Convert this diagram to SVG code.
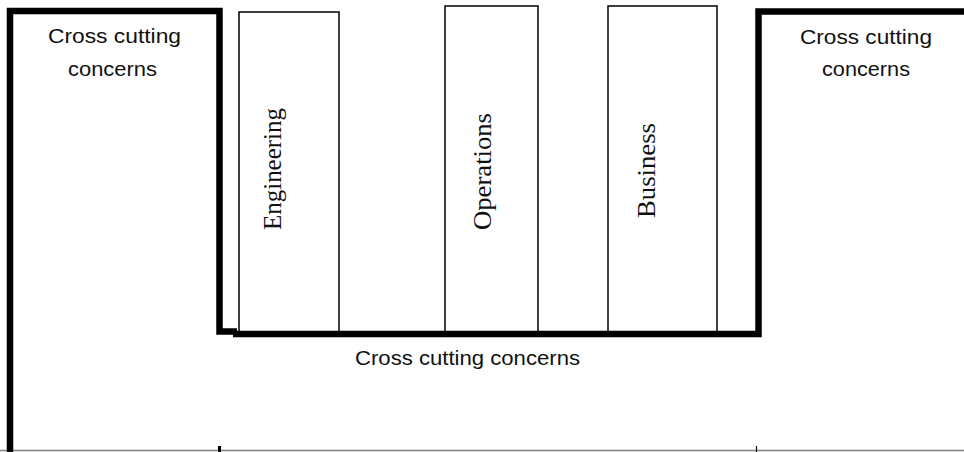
<svg xmlns="http://www.w3.org/2000/svg" width="964" height="452" viewBox="0 0 964 452">
  <style>
    .frame { fill: none; stroke: #000; stroke-width: 6.5; stroke-linejoin: miter; }
    .pillar { fill: #fff; stroke: #000; stroke-width: 1.5; }
    .cc { font-family: "Liberation Sans", Arial, sans-serif; font-size: 20px; fill: #111; text-anchor: middle; }
    .vt { font-family: "Liberation Serif", "Times New Roman", serif; font-size: 26px; fill: #111; text-anchor: middle; }
  </style>
  <rect width="964" height="452" fill="#fff"/>

  <!-- baseline and ticks -->
  <g id="baseline">
    <line x1="0" y1="450.5" x2="964" y2="450.5" stroke="#808080" stroke-width="1.5"/>
    <line x1="219.5" y1="446" x2="219.5" y2="452" stroke="#000" stroke-width="3"/>
    <line x1="756.5" y1="446" x2="756.5" y2="452" stroke="#000" stroke-width="1.2"/>
  </g>

  <!-- pillars -->
  <g id="engineering">
    <rect class="pillar" x="239" y="12" width="100" height="320"/>
    <text class="vt" font-size="25" transform="translate(281 169) rotate(-90)" textLength="122" lengthAdjust="spacingAndGlyphs">Engineering</text>
  </g>
  <g id="operations">
    <rect class="pillar" x="445" y="6" width="93" height="326"/>
    <text class="vt" transform="translate(491 171.5) rotate(-90)" textLength="117" lengthAdjust="spacingAndGlyphs">Operations</text>
  </g>
  <g id="business">
    <rect class="pillar" x="608" y="6" width="109" height="326"/>
    <text class="vt" transform="translate(655 170.5) rotate(-90)" textLength="95" lengthAdjust="spacingAndGlyphs">Business</text>
  </g>

  <!-- cross cutting concern frames -->
  <g id="connectors">
    <path class="frame" d="M10,452 V11 H219.5 V331.5 H237"/>
    <path class="frame" d="M233,334 H758.5 V11.5 H964"/>
  </g>

  <g id="cc-left">
    <text class="cc" x="114.5" y="43" textLength="133" lengthAdjust="spacingAndGlyphs">Cross cutting</text>
    <text class="cc" x="112.5" y="76" textLength="89" lengthAdjust="spacingAndGlyphs">concerns</text>
  </g>
  <g id="cc-right">
    <text class="cc" x="866" y="44" textLength="132" lengthAdjust="spacingAndGlyphs">Cross cutting</text>
    <text class="cc" x="866" y="76" textLength="88" lengthAdjust="spacingAndGlyphs">concerns</text>
  </g>
  <g id="cc-bottom">
    <text class="cc" x="467.5" y="365" textLength="225" lengthAdjust="spacingAndGlyphs">Cross cutting concerns</text>
  </g>
</svg>
